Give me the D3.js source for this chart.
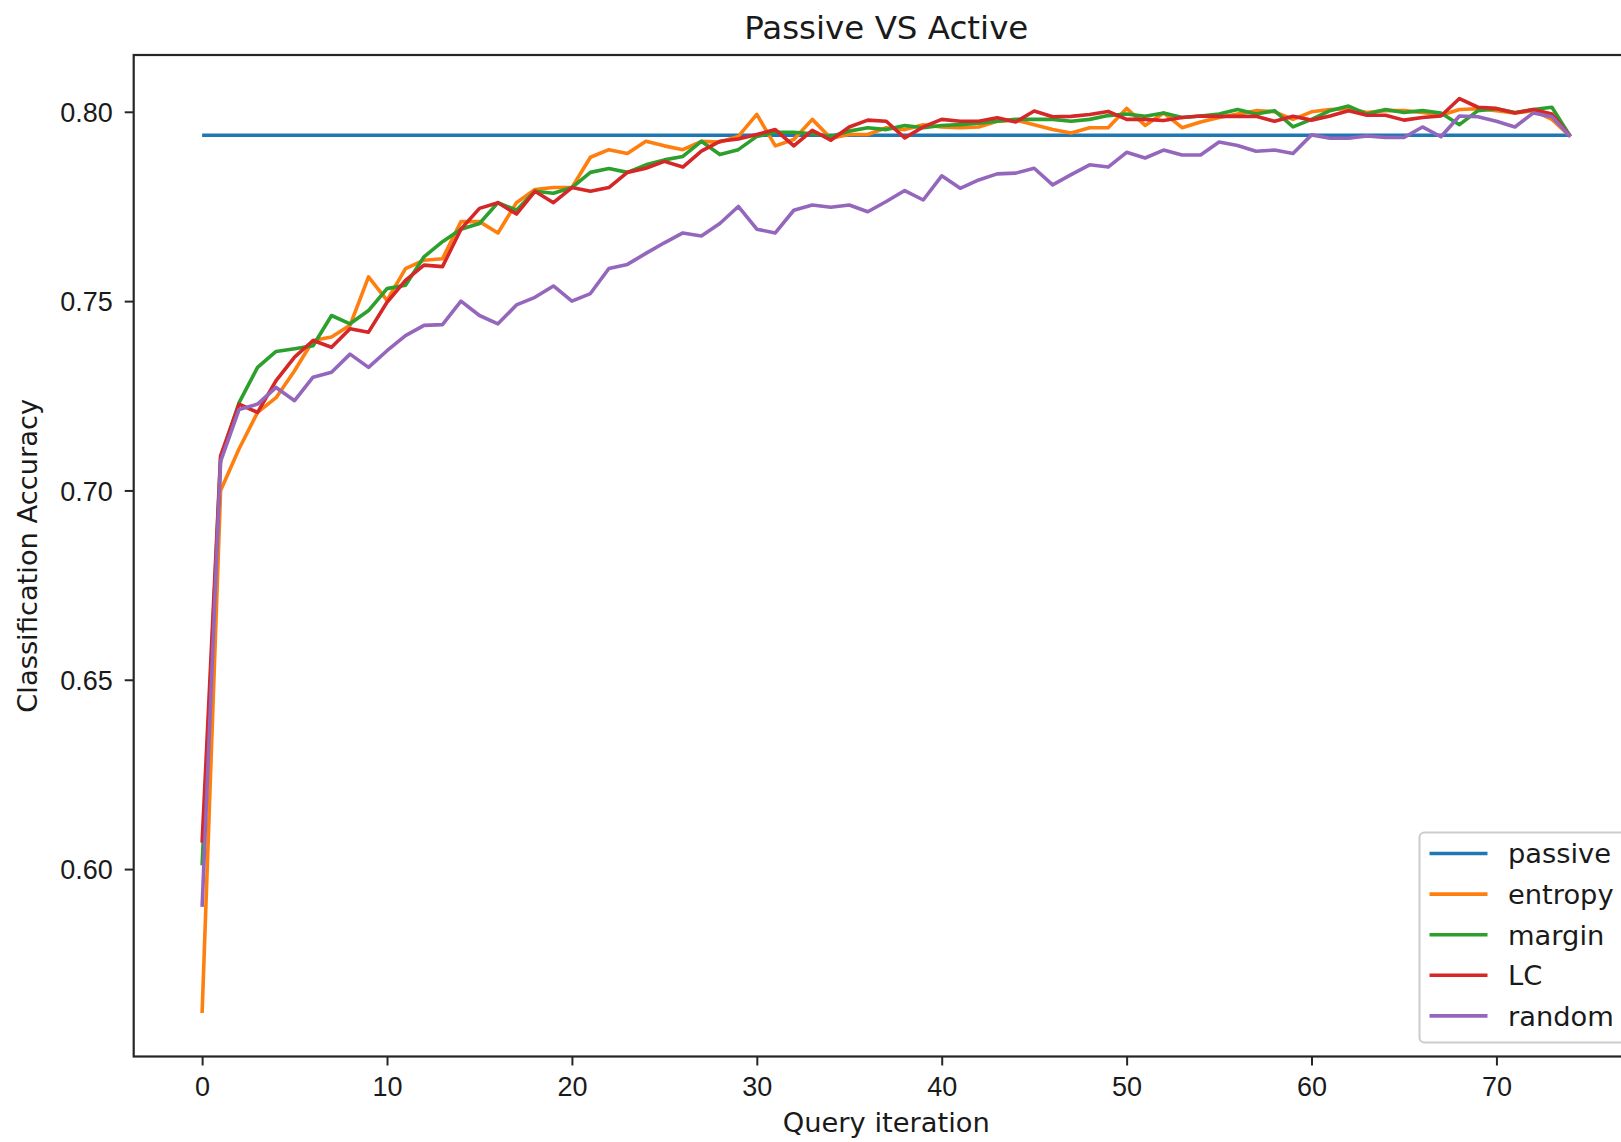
<!DOCTYPE html>
<html>
<head>
<meta charset="utf-8">
<title>Passive VS Active</title>
<script src="https://cdn.jsdelivr.net/npm/d3@7"></script>
<style>
  html, body { margin: 0; padding: 0; background: #fff; overflow: hidden; }
  svg { display: block; font-family: "DejaVu Sans", sans-serif; }
  .axis path, .axis line { stroke: #262626; }
  .axis text { fill: #1a1a1a; font-size: 27px; }
  .series { fill: none; stroke-width: 3.6; stroke-linejoin: round; stroke-linecap: butt; }
  .legend-label { font-size: 27.3px; fill: #1a1a1a; }
</style>
</head>
<body>
<div id="chart"></div>
<script>
// query iterations 0..74
const iterations = d3.range(75);

// passive learner: one accuracy value over every iteration
const passive = [0.7938];

const entropy = [
  0.562, 0.700, 0.711, 0.7206, 0.7245, 0.7316, 0.7396, 0.7405, 0.7436, 0.7564,
  0.7502, 0.7586, 0.7608, 0.7612, 0.771, 0.771, 0.768, 0.776, 0.7795, 0.780,
  0.780, 0.788, 0.790, 0.789, 0.7922, 0.791, 0.790, 0.7922, 0.792, 0.7935,
  0.7993, 0.791, 0.7927, 0.798, 0.793, 0.794, 0.794, 0.7958, 0.7953, 0.7966,
  0.796, 0.7958, 0.796, 0.7975, 0.7978, 0.7966, 0.7953, 0.7944, 0.7958, 0.7958,
  0.8009, 0.7964, 0.7997, 0.7958, 0.7973, 0.7985, 0.7994, 0.8003, 0.800, 0.798,
  0.800, 0.8006, 0.8008, 0.7998, 0.8003, 0.8003, 0.7998, 0.7991, 0.8006, 0.8008,
  0.8003, 0.7997, 0.8003, 0.798, 0.7935
];

const margin = [
  0.601, 0.7086, 0.7232, 0.7325, 0.7367, 0.7374, 0.7382, 0.7462, 0.744, 0.7475,
  0.7533, 0.7542, 0.7617, 0.7657, 0.769, 0.7705, 0.776, 0.774, 0.779, 0.7785,
  0.780, 0.784, 0.785, 0.784, 0.786, 0.7873, 0.7882, 0.7922, 0.7887, 0.790,
  0.7935, 0.7946, 0.7946, 0.7942, 0.7935, 0.7949, 0.7958, 0.7953, 0.7964, 0.7958,
  0.7964, 0.7966, 0.797, 0.7975, 0.798, 0.798, 0.798, 0.7975, 0.798, 0.799,
  0.7994, 0.7988, 0.7997, 0.7985, 0.7989, 0.7994, 0.8006, 0.7994, 0.8003, 0.796,
  0.798, 0.8003, 0.8015, 0.7994, 0.8006, 0.7998, 0.8003, 0.7997, 0.7966, 0.8003,
  0.8008, 0.7998, 0.8006, 0.8012, 0.7935
];

const lc = [
  0.607, 0.7091, 0.7228, 0.7206, 0.729, 0.7352, 0.7396, 0.7378, 0.7427, 0.7418,
  0.7497, 0.7555, 0.7595, 0.7591, 0.769, 0.7745, 0.776, 0.773, 0.779, 0.776,
  0.780, 0.779, 0.780, 0.784, 0.7851, 0.7869, 0.7854, 0.7896, 0.7922, 0.7928,
  0.794, 0.7953, 0.791, 0.7951, 0.7925, 0.796, 0.7978, 0.7975, 0.7931, 0.796,
  0.798, 0.7975, 0.7975, 0.7984, 0.7973, 0.8002, 0.7987, 0.7988, 0.7993, 0.8001,
  0.798, 0.798, 0.7977, 0.7985, 0.7989, 0.7988, 0.7988, 0.7988, 0.7975, 0.7988,
  0.7978, 0.7989, 0.8003, 0.7991, 0.7991, 0.7978, 0.7985, 0.7989, 0.8035, 0.8012,
  0.8009, 0.7997, 0.8006, 0.7994, 0.7935
];

const random = [
  0.590, 0.7077, 0.7214, 0.7228, 0.7272, 0.7237, 0.7299, 0.7312, 0.736, 0.7325,
  0.7369, 0.7409, 0.7436, 0.7438, 0.750, 0.7462, 0.744, 0.749, 0.751, 0.754,
  0.750, 0.752, 0.7586, 0.7597, 0.7626, 0.7654, 0.768, 0.7672, 0.7705, 0.775,
  0.769, 0.768, 0.774, 0.7754, 0.7748, 0.7754, 0.7736, 0.7763, 0.7792, 0.7767,
  0.7831, 0.7798, 0.782, 0.7836, 0.7838, 0.7851, 0.7807, 0.7834, 0.786, 0.7854,
  0.7893, 0.7878, 0.7899, 0.7886, 0.7886, 0.792, 0.7911, 0.7896, 0.7899, 0.789,
  0.7939, 0.793, 0.793, 0.7936, 0.7932, 0.7932, 0.796, 0.7934, 0.7989, 0.7987,
  0.7975, 0.796, 0.7997, 0.7987, 0.7935
];

const seriesNames = ["passive", "entropy", "margin", "LC", "random"];
const seriesColors = ["#1f77b4", "#ff7f0e", "#2ca02c", "#d62728", "#9467bd"];
const xTicks = [0, 10, 20, 30, 40, 50, 60, 70];
const yTicks = [0.60, 0.65, 0.70, 0.75, 0.80];

const W = 1621, H = 1142;
// plot box; the right edge of the original figure is cut off by the frame
const plot = {left: 133.7, top: 55, right: 1638.8, bottom: 1056.5};

const svg = d3.select("#chart").append("svg")
    .attr("width", W)
    .attr("height", H)
    .attr("viewBox", `0 0 ${W} ${H}`);

// matplotlib style 5% margins around the data
const x = d3.scaleLinear().domain([-3.7, 77.7]).range([plot.left, plot.right]);
const y = d3.scaleLinear().domain([0.5505, 0.815]).range([plot.bottom, plot.top]);

svg.append("defs").append("clipPath").attr("id", "plot-clip")
    .append("rect")
    .attr("x", plot.left).attr("y", plot.top)
    .attr("width", plot.right - plot.left).attr("height", plot.bottom - plot.top);

const lines = svg.append("g").attr("clip-path", "url(#plot-clip)");

const passiveRows = iterations.map(i => ({i: i, v: passive[0]}));
const allSeries = [
    passiveRows,
    iterations.map(i => ({i: i, v: entropy[i]})),
    iterations.map(i => ({i: i, v: margin[i]})),
    iterations.map(i => ({i: i, v: lc[i]})),
    iterations.map(i => ({i: i, v: random[i]}))
];

const line = d3.line().x(d => x(d.i)).y(d => y(d.v));

allSeries.forEach((rows, k) => {
    lines.append("path")
        .datum(rows)
        .attr("class", "series")
        .attr("stroke", seriesColors[k])
        .attr("d", line);
});

// axes
const xAxis = svg.append("g")
    .attr("class", "axis")
    .attr("transform", `translate(0, ${plot.bottom})`)
    .call(d3.axisBottom(x).tickValues(xTicks).tickSize(9).tickPadding(5).tickSizeOuter(0));
const yAxis = svg.append("g")
    .attr("class", "axis")
    .attr("transform", `translate(${plot.left}, 0)`)
    .call(d3.axisLeft(y).tickValues(yTicks).tickFormat(d3.format(".2f")).tickSize(9).tickPadding(12).tickSizeOuter(0));

[xAxis, yAxis].forEach(a => {
    a.select(".domain").remove();
    a.selectAll(".tick line").attr("stroke-width", 2);
});
xAxis.selectAll(".tick text").attr("dy", "0.96em");
yAxis.selectAll(".tick text").attr("dy", "0.36em");

// spines (left, top, bottom; right one falls outside the frame)
const spines = svg.append("g").attr("fill", "none").attr("stroke", "#262626").attr("stroke-width", 2.2);
spines.append("rect")
    .attr("x", plot.left).attr("y", plot.top)
    .attr("width", plot.right - plot.left).attr("height", plot.bottom - plot.top);

// title and labels
svg.append("text")
    .attr("x", (plot.left + plot.right) / 2)
    .attr("y", 38.5)
    .attr("text-anchor", "middle")
    .attr("font-size", 32.5)
    .attr("fill", "#1a1a1a")
    .text("Passive VS Active");

svg.append("text")
    .attr("x", (plot.left + plot.right) / 2)
    .attr("y", 1132)
    .attr("text-anchor", "middle")
    .attr("font-size", 27.3)
    .attr("fill", "#1a1a1a")
    .text("Query iteration");

svg.append("text")
    .attr("transform", `translate(37, ${(plot.top + plot.bottom) / 2}) rotate(-90)`)
    .attr("text-anchor", "middle")
    .attr("font-size", 27.3)
    .attr("fill", "#1a1a1a")
    .text("Classification Accuracy");

// legend, lower right
const legend = svg.append("g").attr("transform", "translate(1419.5, 832.5)");
legend.append("rect")
    .attr("width", 260).attr("height", 210)
    .attr("rx", 5)
    .attr("fill", "#fff").attr("fill-opacity", 0.8)
    .attr("stroke", "#cccccc").attr("stroke-width", 2);

seriesNames.forEach((name, k) => {
    const row = legend.append("g").attr("transform", `translate(0, ${21 + k * 40.6})`);
    row.append("line")
        .attr("x1", 10).attr("x2", 68)
        .attr("stroke", seriesColors[k]).attr("stroke-width", 3.6);
    row.append("text")
        .attr("class", "legend-label")
        .attr("x", 88.5)
        .attr("dy", "0.36em")
        .text(name);
});
</script>
</body>
</html>
